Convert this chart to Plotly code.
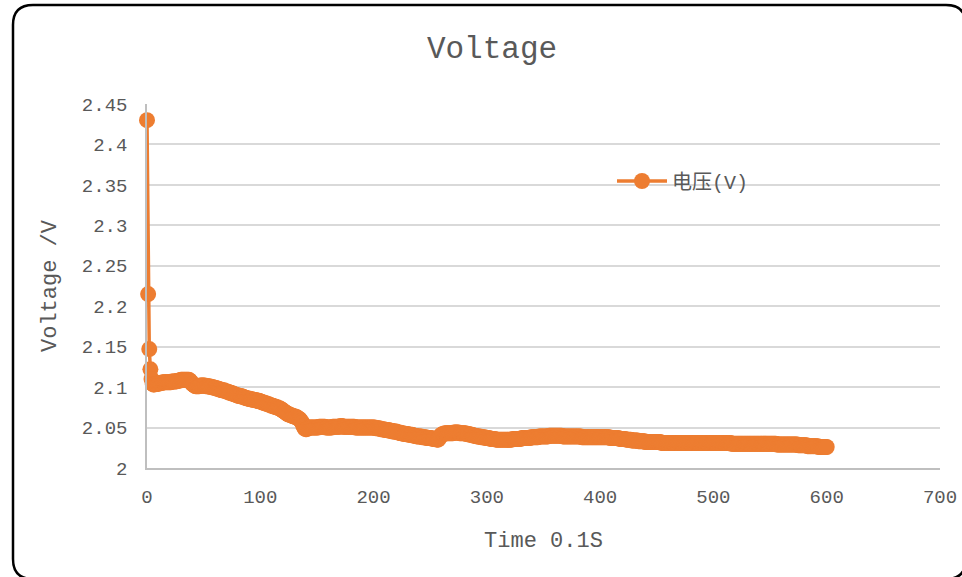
import plotly.graph_objects as go

# Sampling index (one reading every 0.1 s)
time_index = list(range(0, 601))

# Measured cell voltage (V), one value per sample
voltage = [
    2.430, 2.215, 2.147, 2.122, 2.110, 2.104, 2.103, 2.104, 2.104, 2.104,
    2.104, 2.105, 2.105, 2.105, 2.106, 2.106, 2.106, 2.106, 2.106, 2.106,
    2.106, 2.106, 2.107, 2.107, 2.107, 2.107, 2.107, 2.108, 2.108, 2.108,
    2.109, 2.109, 2.109, 2.109, 2.109, 2.109, 2.109, 2.109, 2.108, 2.106,
    2.104, 2.103, 2.102, 2.101, 2.101, 2.101, 2.101, 2.102, 2.102, 2.102,
    2.102, 2.102, 2.101, 2.101, 2.101, 2.101, 2.100, 2.100, 2.100, 2.099,
    2.099, 2.099, 2.098, 2.098, 2.097, 2.097, 2.096, 2.096, 2.096, 2.095,
    2.095, 2.094, 2.094, 2.093, 2.093, 2.092, 2.092, 2.091, 2.091, 2.090,
    2.090, 2.089, 2.089, 2.089, 2.088, 2.088, 2.087, 2.087, 2.086, 2.086,
    2.086, 2.085, 2.085, 2.085, 2.084, 2.084, 2.084, 2.083, 2.083, 2.083,
    2.082, 2.082, 2.081, 2.081, 2.080, 2.080, 2.079, 2.079, 2.078, 2.078,
    2.077, 2.077, 2.076, 2.076, 2.075, 2.075, 2.074, 2.074, 2.073, 2.072,
    2.071, 2.070, 2.069, 2.068, 2.067, 2.066, 2.066, 2.065, 2.065, 2.064,
    2.064, 2.063, 2.063, 2.062, 2.061, 2.060, 2.058, 2.056, 2.052, 2.049,
    2.048, 2.048, 2.049, 2.050, 2.050, 2.050, 2.050, 2.050, 2.050, 2.050,
    2.050, 2.050, 2.051, 2.051, 2.051, 2.051, 2.051, 2.051, 2.050, 2.050,
    2.050, 2.050, 2.050, 2.050, 2.051, 2.051, 2.051, 2.051, 2.051, 2.051,
    2.051, 2.052, 2.052, 2.051, 2.051, 2.051, 2.051, 2.051, 2.051, 2.051,
    2.051, 2.051, 2.051, 2.051, 2.050, 2.050, 2.050, 2.050, 2.050, 2.050,
    2.050, 2.050, 2.050, 2.050, 2.050, 2.050, 2.050, 2.050, 2.050, 2.050,
    2.050, 2.050, 2.049, 2.049, 2.049, 2.049, 2.048, 2.048, 2.048, 2.048,
    2.047, 2.047, 2.047, 2.047, 2.046, 2.046, 2.046, 2.045, 2.045, 2.045,
    2.045, 2.044, 2.044, 2.044, 2.043, 2.043, 2.043, 2.042, 2.042, 2.042,
    2.042, 2.041, 2.041, 2.041, 2.041, 2.040, 2.040, 2.040, 2.039, 2.039,
    2.039, 2.039, 2.039, 2.038, 2.038, 2.038, 2.038, 2.037, 2.037, 2.037,
    2.037, 2.037, 2.036, 2.036, 2.036, 2.036, 2.035, 2.035, 2.037, 2.040,
    2.041, 2.042, 2.042, 2.043, 2.043, 2.043, 2.043, 2.043, 2.043, 2.043,
    2.043, 2.044, 2.044, 2.044, 2.044, 2.044, 2.043, 2.043, 2.043, 2.043,
    2.043, 2.043, 2.042, 2.042, 2.042, 2.041, 2.041, 2.041, 2.040, 2.040,
    2.040, 2.039, 2.039, 2.039, 2.039, 2.038, 2.038, 2.038, 2.038, 2.037,
    2.037, 2.037, 2.037, 2.036, 2.036, 2.036, 2.036, 2.036, 2.035, 2.035,
    2.035, 2.035, 2.035, 2.035, 2.035, 2.035, 2.035, 2.035, 2.035, 2.035,
    2.035, 2.035, 2.035, 2.036, 2.036, 2.036, 2.036, 2.036, 2.036, 2.036,
    2.036, 2.037, 2.037, 2.037, 2.037, 2.037, 2.037, 2.037, 2.037, 2.038,
    2.038, 2.038, 2.038, 2.038, 2.038, 2.038, 2.039, 2.039, 2.039, 2.039,
    2.039, 2.039, 2.039, 2.039, 2.039, 2.040, 2.040, 2.040, 2.040, 2.040,
    2.040, 2.040, 2.040, 2.040, 2.040, 2.040, 2.040, 2.039, 2.039, 2.039,
    2.039, 2.039, 2.039, 2.039, 2.039, 2.039, 2.039, 2.039, 2.039, 2.039,
    2.039, 2.039, 2.039, 2.039, 2.038, 2.038, 2.038, 2.038, 2.038, 2.038,
    2.038, 2.038, 2.038, 2.038, 2.038, 2.038, 2.038, 2.038, 2.038, 2.038,
    2.038, 2.038, 2.038, 2.038, 2.038, 2.038, 2.038, 2.038, 2.038, 2.037,
    2.037, 2.037, 2.037, 2.037, 2.037, 2.037, 2.037, 2.036, 2.036, 2.036,
    2.036, 2.036, 2.036, 2.035, 2.035, 2.035, 2.035, 2.035, 2.034, 2.034,
    2.034, 2.034, 2.034, 2.034, 2.033, 2.033, 2.033, 2.033, 2.033, 2.033,
    2.032, 2.032, 2.032, 2.032, 2.032, 2.032, 2.032, 2.032, 2.032, 2.032,
    2.032, 2.032, 2.032, 2.032, 2.031, 2.031, 2.031, 2.031, 2.031, 2.031,
    2.031, 2.031, 2.031, 2.031, 2.031, 2.031, 2.031, 2.031, 2.031, 2.031,
    2.031, 2.031, 2.031, 2.031, 2.031, 2.031, 2.031, 2.031, 2.031, 2.031,
    2.031, 2.031, 2.031, 2.031, 2.031, 2.031, 2.031, 2.031, 2.031, 2.031,
    2.031, 2.031, 2.031, 2.031, 2.031, 2.031, 2.031, 2.031, 2.031, 2.031,
    2.031, 2.031, 2.031, 2.031, 2.031, 2.031, 2.031, 2.031, 2.031, 2.031,
    2.031, 2.031, 2.031, 2.031, 2.031, 2.031, 2.030, 2.030, 2.030, 2.030,
    2.030, 2.030, 2.030, 2.030, 2.030, 2.030, 2.030, 2.030, 2.030, 2.030,
    2.030, 2.030, 2.030, 2.030, 2.030, 2.030, 2.030, 2.030, 2.030, 2.030,
    2.030, 2.030, 2.030, 2.030, 2.030, 2.030, 2.030, 2.030, 2.030, 2.030,
    2.030, 2.030, 2.030, 2.030, 2.030, 2.030, 2.029, 2.029, 2.029, 2.029,
    2.029, 2.029, 2.029, 2.029, 2.029, 2.029, 2.029, 2.029, 2.029, 2.029,
    2.029, 2.029, 2.029, 2.029, 2.029, 2.028, 2.028, 2.028, 2.028, 2.028,
    2.028, 2.028, 2.028, 2.027, 2.027, 2.027, 2.027, 2.027, 2.027, 2.027,
    2.027, 2.027, 2.027, 2.026, 2.026, 2.026, 2.026, 2.026, 2.026, 2.026,
    2.026,
]

x_ticks = [0, 100, 200, 300, 400, 500, 600, 700]
y_ticks = [2.0, 2.05, 2.1, 2.15, 2.2, 2.25, 2.3, 2.35, 2.4, 2.45]
y_tick_text = ["2", "2.05", "2.1", "2.15", "2.2", "2.25", "2.3", "2.35", "2.4", "2.45"]

ORANGE = "#ED7D31"
TEXT = "#595959"
GRID = "#D9D9D9"
AXIS = "#BFBFBF"
FONT = "Liberation Mono, Noto Sans CJK SC, monospace"

W, H = 962, 577
L, R, T, B = 147, 22, 104, 109
PW, PH = W - L - R, H - T - B


def px(xp):
    return (xp - L) / PW


def py(yp):
    return (H - B - yp) / PH


fig = go.Figure(
    go.Scatter(
        x=time_index,
        y=voltage,
        mode="lines+markers",
        name="电压(V)",
        cliponaxis=False,
        line=dict(color=ORANGE, width=3.5),
        marker=dict(color=ORANGE, size=16, symbol="circle"),
    )
)

# rounded frame around the whole chart
x0, x1, y0, y1, r = 13, 966, 5, 579, 20
frame = (
    f"M{px(x0)},{py(y0 + r)} "
    f"L{px(x0)},{py(y1 - r)} Q{px(x0)},{py(y1)} {px(x0 + r)},{py(y1)} "
    f"L{px(x1 - r)},{py(y1)} Q{px(x1)},{py(y1)} {px(x1)},{py(y1 - r)} "
    f"L{px(x1)},{py(y0 + r)} Q{px(x1)},{py(y0)} {px(x1 - r)},{py(y0)} "
    f"L{px(x0 + r)},{py(y0)} Q{px(x0)},{py(y0)} {px(x0)},{py(y0 + r)} Z"
)

fig.update_layout(
    width=W,
    height=H,
    margin=dict(l=L, r=R, t=T, b=B, autoexpand=False),
    paper_bgcolor="white",
    plot_bgcolor="white",
    font=dict(family=FONT, color=TEXT),
    title=dict(
        text="Voltage",
        font=dict(size=31, color=TEXT, family=FONT),
        x=px(492),
        xref="paper",
        xanchor="center",
        y=1 - 47 / H,
        yanchor="middle",
    ),
    xaxis=dict(
        range=[0, 700],
        tickvals=x_ticks,
        showgrid=False,
        zeroline=False,
        showline=True,
        linecolor=AXIS,
        linewidth=1.5,
        ticks="",
        automargin=False,
        ticklabelstandoff=10,
        tickfont=dict(size=19, color=TEXT),
        title=dict(text="Time 0.1S", font=dict(size=22, color=TEXT), standoff=24),
    ),
    yaxis=dict(
        range=[2.0, 2.45],
        tickvals=y_ticks,
        ticktext=y_tick_text,
        showgrid=True,
        gridcolor=GRID,
        gridwidth=1.5,
        zeroline=False,
        showline=True,
        linecolor=AXIS,
        linewidth=1.5,
        ticks="",
        automargin=False,
        ticklabelstandoff=14,
        tickfont=dict(size=19, color=TEXT),
        title=dict(text="Voltage /V", font=dict(size=22, color=TEXT), standoff=19),
    ),
    showlegend=True,
    legend=dict(
        x=px(612),
        y=py(181),
        xanchor="left",
        yanchor="middle",
        itemwidth=50,
        bgcolor="rgba(0,0,0,0)",
        font=dict(size=20, color=TEXT, family=FONT),
    ),
    shapes=[
        dict(
            type="path",
            path=frame,
            xref="paper",
            yref="paper",
            line=dict(color="black", width=2.5),
            fillcolor="rgba(0,0,0,0)",
            layer="above",
        )
    ],
)

fig.write_html("out.html")
